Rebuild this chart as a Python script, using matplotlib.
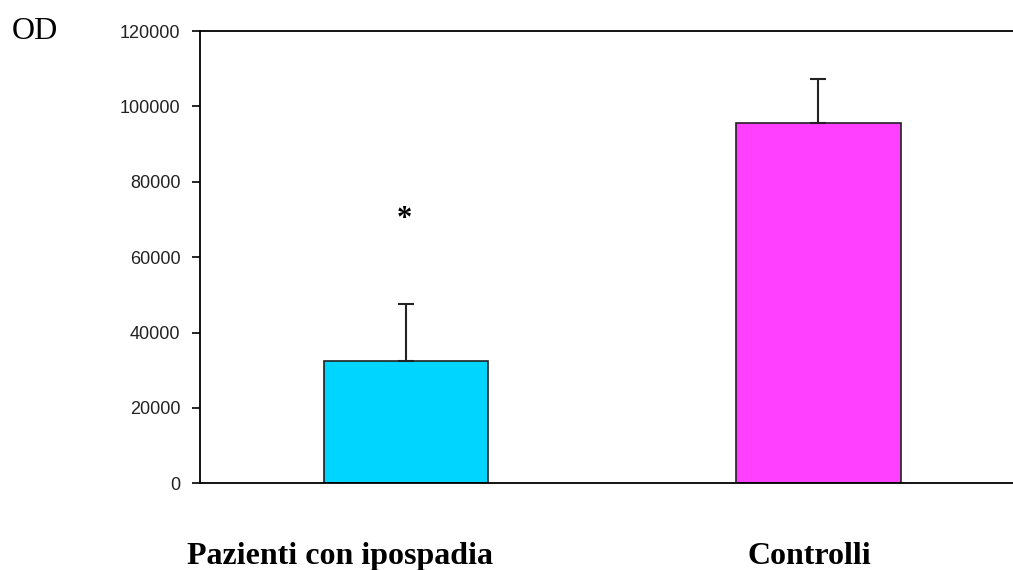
import matplotlib.pyplot as plt

groups = ['Pazienti con ipospadia', 'Controlli']
od_mean = [32500, 95600]
od_err = [15000, 11750]
bar_colors = ['#00D5FF', '#FF40FF']
yticks = [0, 20000, 40000, 60000, 80000, 100000, 120000]

fig = plt.figure(figsize=(10.13, 5.70), dpi=100)
ax = fig.add_axes([0.1974, 0.152, 0.8136, 0.7936])

x = range(len(groups))
ax.bar(x, od_mean, width=0.4, color=bar_colors, edgecolor='#222222', linewidth=1.2,
       yerr=[[0, 0], od_err], error_kw=dict(ecolor='#222222', elinewidth=1.5,
                                           capsize=5.5, capthick=1.5))

ax.set_xlim(-0.5, 1.5)
ax.set_ylim(0, 120000)
ax.set_yticks(yticks)
ax.set_yticklabels([str(v) for v in yticks], family='Liberation Sans', fontsize=13, color='#222222')
ax.tick_params(axis='y', direction='out', length=6, width=1.2, pad=8)
ax.set_xticks([])
ax.spines['right'].set_visible(False)
for s in ['left', 'top', 'bottom']:
    ax.spines[s].set_linewidth(1.3)

# significance mark over the patient group
ax.text(-0.005, 70000, '*', ha='center', va='center', fontsize=22, fontweight='bold',
        family='Liberation Serif')

# group names sit under the bars, a little off-centre
label_x = [-0.16, 0.978]
for lx, g in zip(label_x, groups):
    ax.text(lx, -19500, g, ha='center', va='center', family='Liberation Serif',
            fontweight='bold', fontsize=23)

fig.text(0.012, 0.945, 'OD', family='Liberation Serif', fontsize=23, va='center')

fig.savefig('out.png', dpi=100)
